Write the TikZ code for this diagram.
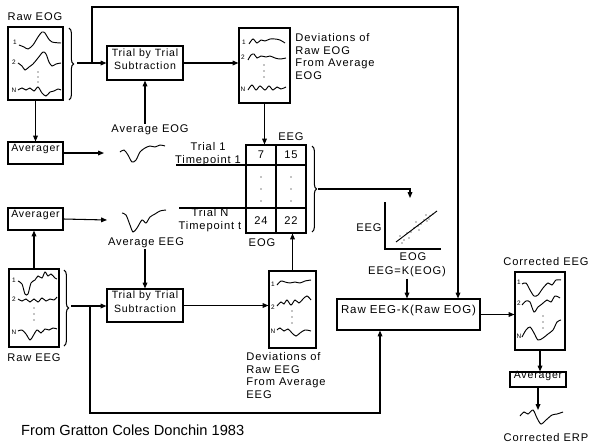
\documentclass[tikz,border=0pt]{standalone}
\usepackage{fontspec}
\setmainfont{Liberation Sans}
\newfontfamily\lettering[LetterSpace=8]{Liberation Sans}
\usetikzlibrary{arrows.meta, fit, decorations.pathreplacing}

\begin{document}
\begin{tikzpicture}[x=0.03cm, y=-0.03cm]
\tikzset{
  box/.style={draw, line width=0.9pt, inner sep=0pt},
  tbox/.style={box, align=center, font=\lettering\fontsize{9}{11.5}\selectfont},
  lbl/.style={font=\lettering\fontsize{9.5}{10.8}\selectfont, inner sep=1pt},
  arrow/.style={-{Triangle[length=5pt,width=4pt]}, line width=0.9pt},
  line/.style={line width=0.9pt},
  wave/.style={line width=0.8pt, smooth},
  num/.style={font=\lettering\fontsize{5.5}{6}\selectfont, inner sep=0pt},
  brc/.style={decorate, decoration={brace, amplitude=4pt}, line width=0.9pt},
}
\useasboundingbox (0,0) rectangle (594,446);

%% ---- EOG path ----
\node[lbl] (raweoglbl) at (35,17) {Raw EOG};
\node[box, fit={(8,27)(63,100)}] (raweog) {};
\node[num] at (15,42) {1};
\draw[wave] plot coordinates {(19,45) (24,47) (28,49) (33,45) (38,37) (42,32) (45,33) (48,38) (52,42) (61,43)};
\node[num] at (14,62) {2};
\draw[wave] plot coordinates {(18,63) (22,66) (25,70) (29,67) (33,64) (38,58) (43,52) (46,54) (49,62) (52,66) (56,64) (61,63)};
\foreach \y in {72,77,82} \fill (38,\y) circle (0.6pt);
\node[num] at (14,90) {N};
\draw[wave] plot coordinates {(18,90) (22,88) (26,90) (30,88) (34,91) (38,87) (42,93) (46,96) (50,92) (54,91) (58,89) (61,90)};
\draw[brc] (69,28) -- (69,100);
\coordinate (eogtip) at (77,63);

\node[tbox, fit={(107,46)(183,80)}] (sub1) {Trial by Trial\\Subtraction};
\node[lbl] (avgeoglbl) at (150,130) {Average EOG};

\node[box, fit={(239,28)(290,103)}] (deveog) {};
\node[num] at (244,42) {1};
\draw[wave] plot coordinates {(249,44) (253,39) (257,43) (261,40) (265,41) (270,39) (275,39) (280,40) (285,43)};
\node[num] at (243,57) {2};
\draw[wave] plot coordinates {(248,60) (251,55) (254,54) (257,58) (261,56) (266,57) (270,56) (275,58) (280,59) (286,58)};
\foreach \y in {65,71,77} \fill (264,\y) circle (0.6pt);
\node[num] at (243,89) {N};
\draw[wave] plot coordinates {(248,90) (252,85) (256,90) (260,86) (265,90) (269,86) (273,90) (277,87) (281,89) (286,87)};
\node[lbl, anchor=north west, align=left] (deveoglbl) at (294,32)
  {Deviations of\\Raw EOG\\From Average\\EOG};

\node[tbox, fit={(8,142)(63,164)}] (avg1) {Averager};
\coordinate (avgeogin) at (104,153);
\draw[wave] plot coordinates {(120,152) (124,150) (128,155) (132,162) (136,160) (140,152) (145,148) (150,146) (155,147) (160,145) (165,146)};

%% ---- TABLE ----
\node[box, fit={(246,145)(306,233)}] (tbl) {};
\draw[line] (tbl.north) -- (tbl.south);
\draw[line] (176,165) -- (306,165);
\draw[line] (179,208) -- (306,208);
\node[lbl, align=center] (trial1) at (208,154) {Trial 1\\Timepoint 1};
\node[lbl, align=center] (trialn) at (210,220) {Trial N\\Timepoint t};
\node[lbl] at (261,155) {7};
\node[lbl] at (291,155) {15};
\node[lbl] at (261,221) {24};
\node[lbl] at (291,221) {22};
\foreach \y in {177,189,201} {\fill (261,\y) circle (0.6pt); \fill (291,\y) circle (0.6pt);}
\node[lbl] (eeghead) at (291,137) {EEG};
\node[lbl] (eogfoot) at (262,243) {EOG};
\draw[brc] (312,146) -- (312,232);
\coordinate (tbltip) at (318,189);

%% ---- SCATTER ----
\coordinate (plottop) at (410,198);
\draw[line] (385,202) -- (385,249) -- (441,249);
\draw[line width=0.8pt] (396,242) -- (437,211);
\foreach \p in {(400,236),(404,240),(407,233),(411,232),(414,228),(418,226),(421,224),(424,220),(427,221),(430,216),(426,215),(419,230),(409,238),(433,214),(402,243),(416,222),(429,219)}
  \fill \p circle (0.5pt);
\node[lbl] at (369,228) {EEG};
\node[lbl] at (413,257) {EOG};
\node[lbl] (kfun) at (407,272) {EEG=K(EOG)};

%% ---- CORRECTION ----
\node[tbox, fit={(337,299)(480,330)}, font=\lettering\fontsize{9.8}{12}\selectfont] (corr) {Raw EEG-K(Raw EOG)};

\node[lbl] at (546,262) {Corrected EEG};
\node[box, fit={(515,272)(565,350)}] (correeg) {};
\node[num] at (519,282) {1};
\draw[wave] plot coordinates {(522,284) (526,283) (530,290) (534,296) (538,295) (543,288) (548,283) (552,285) (556,280) (561,280)};
\node[num] at (519,303) {2};
\draw[wave] plot coordinates {(522,305) (526,301) (530,302) (534,312) (538,307) (542,304) (547,300) (551,302) (555,296) (560,298)};
\foreach \y in {316,322,328} \fill (543,\y) circle (0.6pt);
\node[num] at (519,336) {N};
\draw[wave] plot coordinates {(522,337) (526,330) (530,327) (534,333) (538,340) (543,338) (548,334) (553,330) (557,322) (561,320)};

\node[tbox, fit={(510,372)(566,387)}] (avg3) {Averager};
\coordinate (erpin) at (538,410);
\draw[wave] plot coordinates {(520,416) (524,412) (528,414) (533,410) (537,418) (541,424) (546,420) (552,415) (557,414) (563,412)};
\node[lbl] at (546,438) {Corrected ERP};

%% ---- EEG path ----
\node[tbox, fit={(8,208)(63,230)}] (avg2) {Averager};
\coordinate (avgeegin) at (107,220);
\draw[wave] plot coordinates {(122,213) (126,215) (130,225) (133,232) (137,228) (142,220) (146,223) (150,217) (155,214) (160,211) (166,210)};
\node[lbl] (avgeeglbl) at (146,243) {Average EEG};

\node[box, fit={(9,269)(59,347)}] (raweeg) {};
\node[num] at (14,280) {1};
\draw[wave] plot coordinates {(18,281) (22,284) (25,294) (28,294) (31,283) (35,280) (38,276) (42,278) (45,272) (48,276) (51,274) (55,278) (57,279)};
\node[num] at (14,299) {2};
\draw[wave] plot coordinates {(18,299) (22,301) (26,299) (30,302) (34,299) (38,302) (42,298) (46,301) (50,299) (54,300) (57,297)};
\foreach \y in {308,314,320} \fill (34,\y) circle (0.6pt);
\node[num] at (14,332) {N};
\draw[wave] plot coordinates {(18,331) (22,330) (26,334) (30,340) (33,336) (37,330) (41,333) (45,329) (49,330) (53,328) (57,329)};
\draw[brc] (64,270) -- (64,346);
\coordinate (eegtip) at (71,306);
\node[lbl] (raweeglbl) at (34,358) {Raw EEG};

\node[tbox, fit={(107,289)(183,322)}] (sub2) {Trial by Trial\\Subtraction};

\node[box, fit={(269,271)(316,348)}] (deveeg) {};
\node[num] at (273,284) {1};
\draw[wave] plot coordinates {(277,285) (281,281) (285,282) (290,283) (295,282) (300,283) (305,281) (311,280)};
\node[num] at (273,307) {2};
\draw[wave] plot coordinates {(277,306) (281,302) (284,304) (287,300) (291,305) (295,300) (299,303) (303,299) (307,296) (311,300)};
\foreach \y in {311,317,323} \fill (292,\y) circle (0.6pt);
\node[num] at (273,331) {N};
\draw[wave] plot coordinates {(277,330) (280,328) (284,331) (288,329) (292,333) (296,336) (300,333) (305,330) (311,331)};
\node[lbl, anchor=north west, align=left] (deveeglbl) at (245,351)
  {Deviations of\\Raw EEG\\From Average\\EEG};

%% ---- CONNECTORS ----
\coordinate (split1) at (92,63);
\coordinate (topR) at (458,7);
\coordinate (split2) at (90,306);
\coordinate (botR) at (380,413);

\draw[arrow] (eogtip) -- (eogtip -| sub1.west);
\draw[arrow] (split1) |- (topR) -- (topR |- corr.north);
\draw[arrow] (sub1.east) -- (sub1.east -| deveog.west);
\draw[arrow] (sub1.south |- avgeoglbl.north) -- (sub1.south);
\draw[arrow] (raweog.south) -- (avg1.north);
\draw[arrow] (avg1.east) -- (avgeogin);
\draw[arrow] (deveog.south) -- (deveog.south |- tbl.north);
\draw[arrow] (tbltip) -| (plottop);
\draw[arrow] (kfun.south) -- (kfun.south |- corr.north);
\draw[arrow] (corr.east) -- (corr.east -| correeg.west);
\draw[arrow] (correeg.south) -- (correeg.south |- avg3.north);
\draw[arrow] (avg3.south) -- (erpin);

\draw[arrow] (raweeg.north) -- (raweeg.north |- avg2.south);
\draw[arrow] (avg2.east) -- (avgeegin);
\draw[arrow] (eegtip) -- (eegtip -| sub2.west);
\draw[arrow] (split2) |- (botR) -- (botR |- corr.south);
\draw[arrow] (sub2.north |- avgeeglbl.south) -- (sub2.north);
\draw[arrow] (sub2.east) -- (sub2.east -| deveeg.west);
\draw[arrow] (deveeg.north) -- (deveeg.north |- tbl.south);

%% ---- SOURCE ----
\node[anchor=west, font=\fontsize{12.5}{14}\selectfont, inner sep=0pt] (src) at (21,430) {From Gratton Coles Donchin 1983};
\end{tikzpicture}
\end{document}
